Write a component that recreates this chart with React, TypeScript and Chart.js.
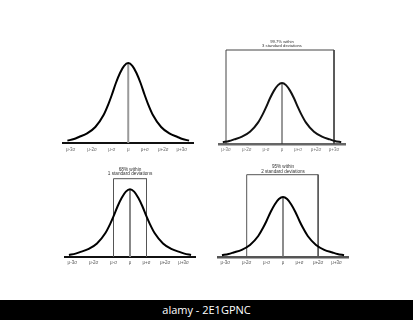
import React, { useEffect, useRef } from "react";
import { Chart, registerables } from "chart.js";

Chart.register(...registerables);
Chart.defaults.font.family = "'Liberation Sans', Arial, sans-serif";

// ---- data (curve heights, in σ-units along x) ----
const curveX = [-3.7, -3.3, -3.0, -2.5, -2.0, -1.5, -1.2, -1.0, -0.75, -0.5, -0.25, 0, 0.25, 0.5, 0.75, 1.0, 1.2, 1.5, 2.0, 2.5, 3.0, 3.3, 3.7];
const curveY = [0.03, 0.05, 0.075, 0.12, 0.2, 0.35, 0.49, 0.6, 0.75, 0.875, 0.965, 1, 0.965, 0.875, 0.75, 0.6, 0.49, 0.35, 0.2, 0.12, 0.075, 0.05, 0.03];
const meanValue = 0;
const peakValue = 1;
const tickPositions = [-3.5, -2.2, -1, 0, 1, 2.13, 3.25];
const tickLabels = ["μ-3σ", "μ-2σ", "μ-σ", "μ", "μ+σ", "μ+2σ", "μ+3σ"];
const text997 = ["99.7% within", "3 standard deviations"];
const text68 = ["68% within", "1 standard deviations"];
const text95 = ["95% within", "2 standard deviations"];

type PanelCfg = {
  left: number; top: number; width: number; height: number;
  yMax: number; tickPad: number;
  curveColor: string; meanColor: string; meanWidth: number;
  baseColor: string; baseWidth: number; labelColor: string;
  bracket?: { lo: number; hi: number; y: number; color: string; text: string[]; font: number; off: number[] };
};

const panels: PanelCfg[] = [
  { left: 62, top: 52, width: 132, height: 104, yMax: 91 / 80, tickPad: 4,
    curveColor: "#000", meanColor: "#9a9a9a", meanWidth: 2, baseColor: "#111", baseWidth: 2, labelColor: "#666" },
  { left: 218, top: 36, width: 128, height: 119, yMax: 108 / 61, tickPad: 3,
    curveColor: "#111", meanColor: "#333", meanWidth: 1, baseColor: "#666", baseWidth: 2.5, labelColor: "#777",
    bracket: { lo: 0, hi: 6, y: 94 / 61, color: "#444", text: text997, font: 4.2, off: [8.5, 4] } },
  { left: 64, top: 162, width: 132, height: 106, yMax: 95 / 67.7, tickPad: 3,
    curveColor: "#000", meanColor: "#888", meanWidth: 2, baseColor: "#111", baseWidth: 2, labelColor: "#555",
    bracket: { lo: 2, hi: 4, y: 78.3 / 67.7, color: "#555", text: text68, font: 4.7, off: [9.4, 5] } },
  { left: 217, top: 160, width: 132, height: 108, yMax: 97 / 60, tickPad: 3,
    curveColor: "#000", meanColor: "#666", meanWidth: 1.5, baseColor: "#555", baseWidth: 2.5, labelColor: "#555",
    bracket: { lo: 1, hi: 5, y: 82.3 / 60, color: "#555", text: text95, font: 4.6, off: [7.7, 3.4] } },
];

function Panel({ cfg }: { cfg: PanelCfg }) {
  const ref = useRef<HTMLCanvasElement>(null);
  useEffect(() => {
    if (!ref.current) return;
    const datasets: any[] = [
      {
        data: curveX.map((x, i) => ({ x, y: curveY[i] })),
        borderColor: cfg.curveColor, borderWidth: 2, pointRadius: 0,
        cubicInterpolationMode: "monotone", fill: false, clip: false,
      },
      {
        data: [{ x: meanValue, y: 0 }, { x: meanValue, y: peakValue }],
        borderColor: cfg.meanColor, borderWidth: cfg.meanWidth, pointRadius: 0, clip: false,
      },
    ];
    const b = cfg.bracket;
    if (b) {
      datasets.push({
        data: [
          { x: tickPositions[b.lo], y: 0 },
          { x: tickPositions[b.lo], y: b.y },
          { x: tickPositions[b.hi], y: b.y },
          { x: tickPositions[b.hi], y: 0 },
        ],
        borderColor: b.color, borderWidth: 1, pointRadius: 0, clip: false,
      });
    }
    const textPlugin = {
      id: "bracketText",
      afterDatasetsDraw(chart: any) {
        if (!b) return;
        const ctx = chart.ctx;
        const xs = chart.scales.x;
        const ys = chart.scales.y;
        const cx = xs.getPixelForValue(meanValue);
        const by = ys.getPixelForValue(b.y);
        ctx.save();
        ctx.fillStyle = "#333";
        ctx.font = `${b.font}px 'Liberation Sans', Arial, sans-serif`;
        ctx.textAlign = "center";
        ctx.textBaseline = "middle";
        b.text.forEach((t, i) => ctx.fillText(t, cx, by - b.off[i]));
        ctx.restore();
      },
    };
    // datasets drawn in order: put curve on top of mean line
    datasets.forEach((d, i) => (d.order = i === 0 ? 0 : 1));
    const chart = new Chart(ref.current, {
      type: "line",
      data: { datasets },
      plugins: [textPlugin],
      options: {
        animation: false,
        responsive: false,
        devicePixelRatio: 1,
        layout: { padding: 0 },
        plugins: { legend: { display: false }, tooltip: { enabled: false }, title: { display: false } },
        scales: {
          x: {
            type: "linear", min: -4, max: 4,
            grid: { display: false, drawTicks: false },
            border: { display: true, color: cfg.baseColor, width: cfg.baseWidth },
            afterBuildTicks: (scale: any) => {
              scale.ticks = tickPositions.map((v) => ({ value: v }));
            },
            ticks: {
              autoSkip: false, maxRotation: 0, padding: cfg.tickPad, color: cfg.labelColor,
              font: { size: 4.5, lineHeight: "5px" as any },
              callback: (_v: any, i: number) => tickLabels[i],
            },
          },
          y: { display: false, min: 0, max: cfg.yMax },
        },
      } as any,
    });
    return () => chart.destroy();
  }, [cfg]);
  return (
    <canvas
      ref={ref}
      width={cfg.width}
      height={cfg.height}
      style={{ position: "absolute", left: cfg.left, top: cfg.top, width: cfg.width, height: cfg.height }}
    />
  );
}

export default function App() {
  return (
    <div style={{ position: "fixed", left: 0, top: 0, width: 413, height: 320, background: "#fff", overflow: "hidden" }}>
      {panels.map((p, i) => (
        <Panel key={i} cfg={p} />
      ))}
      <div
        style={{
          position: "absolute", left: 0, top: 300, width: 413, height: 20, background: "#000", color: "#fff",
          fontFamily: "'Open Sans', sans-serif", fontSize: 11, lineHeight: "20px", textAlign: "center",
        }}
      >
        alamy - 2E1GPNC
      </div>
    </div>
  );
}
